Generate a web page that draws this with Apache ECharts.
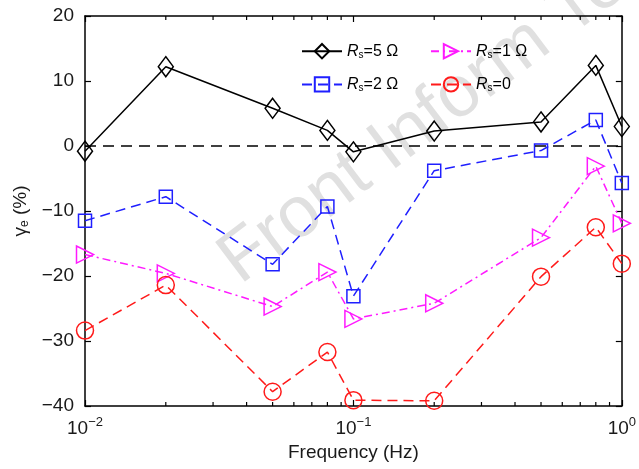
<!DOCTYPE html>
<html>
<head>
<meta charset="utf-8">
<script src="https://cdn.jsdelivr.net/npm/echarts@6/dist/echarts.min.js"></script>
<style>
  html, body { margin: 0; padding: 0; background: #fff; }
  #chart { width: 639px; height: 469px; }
</style>
</head>
<body>
<div id="chart"></div>
<script>
// frequencies (Hz)
const freqs = [0.01, 0.02, 0.05, 0.08, 0.1, 0.2, 0.5, 0.8, 1];

// gamma_e (%) per source resistance
const rs5 = [-0.8, 12.2, 5.8, 2.4, -0.9, 2.3, 3.7, 12.4, 3.0];
const rs2 = [-11.5, -7.8, -18.2, -9.3, -23.1, -3.8, -0.7, 4.0, -5.7];
const rs1 = [-16.7, -19.6, -24.7, -19.4, -26.6, -24.2, -14.1, -3.1, -11.9];
const rs0 = [-28.4, -21.4, -37.8, -31.7, -39.1, -39.2, -20.1, -12.5, -18.1];

const minorTicks = [0.02, 0.03, 0.04, 0.05, 0.06, 0.07, 0.08, 0.09,
                    0.2, 0.3, 0.4, 0.5, 0.6, 0.7, 0.8, 0.9];

const FONT = '"Liberation Sans", Arial, sans-serif';

function pairs(ys) {
  return freqs.map((f, i) => [f, ys[i]]);
}

function makeSeries(name, ys, color, symbol, size, dash, rotate) {
  return {
    name: name,
    type: 'line',
    data: pairs(ys),
    symbol: symbol,
    symbolSize: size,
    symbolRotate: rotate || 0,
    showAllSymbol: true,
    lineStyle: { color: color, width: 1.5, type: dash },
    itemStyle: { color: 'rgba(0,0,0,0)', borderColor: color, borderWidth: 1.5 },
    emphasis: { disabled: true },
    animation: false,
    clip: false,
    z: 3
  };
}

const chart = echarts.init(document.getElementById('chart'));

const legendRich = {
  r: { fontFamily: FONT, fontSize: 16, fontStyle: 'italic', color: '#000' },
  s: { fontFamily: FONT, fontSize: 10, color: '#000', padding: [8, 0, 0, 0] },
  t: { fontFamily: FONT, fontSize: 16, color: '#000' }
};
function legendFmt(name) {
  const rest = name.slice(2);
  return '{r|R}{s|s}{t|' + rest + '}';
}

const axisLineStyle = { onZero: false, lineStyle: { color: '#000', width: 1.5 } };
const tickStyle = { inside: true, length: 6, lineStyle: { color: '#000', width: 1.2 } };

chart.setOption({
  animation: false,
  graphic: [{
    type: 'text',
    z: 0,
    silent: true,
    x: 250, y: 298,
    rotation: 37 * Math.PI / 180,
    style: {
      text: 'Front Inform Technology',
      fontFamily: FONT,
      fontSize: 72,
      verticalAlign: 'bottom',
      fill: '#e0e0e0'
    }
  }],
  grid: { left: 85, right: 16, top: 16, bottom: 63 },
  legend: [{
    left: 296, top: 38,
    orient: 'vertical',
    itemWidth: 40, itemHeight: 18, itemGap: 16,
    data: ['Rs=5 Ω', 'Rs=2 Ω'],
    formatter: legendFmt,
    textStyle: { rich: legendRich }
  }, {
    left: 425, top: 38,
    orient: 'vertical',
    itemWidth: 40, itemHeight: 18, itemGap: 16,
    data: ['Rs=1 Ω', 'Rs=0'],
    formatter: legendFmt,
    textStyle: { rich: legendRich }
  }],
  xAxis: [{
    type: 'log',
    logBase: 10,
    min: 0.01,
    max: 1,
    name: 'Frequency (Hz)',
    nameLocation: 'middle',
    nameGap: 36,
    nameTextStyle: { fontFamily: FONT, fontSize: 19, color: '#1a1a1a' },
    axisLine: axisLineStyle,
    axisTick: tickStyle,
    splitLine: { show: false },
    axisLabel: {
      margin: 10,
      showMinLabel: true,
      showMaxLabel: true,
      formatter: function (v) {
        const e = Math.round(Math.log10(v));
        return '{b|10}{p|' + (e < 0 ? '−' + (-e) : e) + '}';
      },
      rich: {
        b: { fontFamily: FONT, fontSize: 19, color: '#1a1a1a' },
        p: { fontFamily: FONT, fontSize: 13, color: '#1a1a1a', padding: [0, 0, 12, 0] }
      }
    }
  }, {
    type: 'log',
    logBase: 10,
    min: 0.01,
    max: 1,
    position: 'top',
    axisLine: axisLineStyle,
    axisTick: tickStyle,
    axisLabel: { show: false },
    splitLine: { show: false }
  }],
  yAxis: [{
    type: 'value',
    min: -40,
    max: 20,
    interval: 10,
    name: '{g|γ}{e|e} (%)',
    nameLocation: 'middle',
    nameGap: 52,
    nameTextStyle: {
      rich: {
        g: { fontFamily: FONT, fontSize: 19, color: '#1a1a1a' },
        e: { fontFamily: FONT, fontSize: 12, color: '#1a1a1a', padding: [0, 0, -8, 0] }
      },
      fontFamily: FONT, fontSize: 19, color: '#1a1a1a'
    },
    axisLine: Object.assign({ show: true }, axisLineStyle),
    axisTick: Object.assign({ show: true }, tickStyle),
    splitLine: { show: false },
    axisLabel: {
      margin: 11,
      fontFamily: FONT,
      fontSize: 19,
      color: '#1a1a1a',
      formatter: v => (v < 0 ? '−' + (-v) : String(v))
    }
  }, {
    type: 'value',
    min: -40,
    max: 20,
    interval: 10,
    position: 'right',
    axisLine: Object.assign({ show: true }, axisLineStyle),
    axisTick: Object.assign({ show: true }, tickStyle),
    axisLabel: { show: false },
    splitLine: { show: false }
  }],
  series: [
    Object.assign(makeSeries('Rs=5 Ω', rs5, '#000000', 'diamond', [15, 20], 'solid'), {
      markLine: {
        silent: true,
        symbol: 'none',
        label: { show: false },
        lineStyle: { color: '#000', width: 1.6, type: [11, 7] },
        data: [{ yAxis: 0 }],
        animation: false
      }
    }),
    makeSeries('Rs=2 Ω', rs2, '#1f1fff', 'rect', 13, [10, 6]),
    makeSeries('Rs=1 Ω', rs1, '#ff1aff', 'triangle', [17, 17], [8, 4, 2, 4], -90),
    makeSeries('Rs=0', rs0, '#ff1a1a', 'circle', 17, [10, 6]),
    {
      type: 'custom',
      silent: true,
      clip: false,
      animation: false,
      data: minorTicks.map(v => [v]),
      renderItem: function (params, api) {
        const v = api.value(0);
        const bot = api.coord([v, -40]);
        const top = api.coord([v, 20]);
        const st = { stroke: '#000', lineWidth: 1.2 };
        return {
          type: 'group',
          children: [
            { type: 'line', shape: { x1: bot[0], y1: bot[1], x2: bot[0], y2: bot[1] - 4 }, style: st },
            { type: 'line', shape: { x1: top[0], y1: top[1], x2: top[0], y2: top[1] + 4 }, style: st }
          ]
        };
      }
    }
  ]
});
</script>
</body>
</html>
